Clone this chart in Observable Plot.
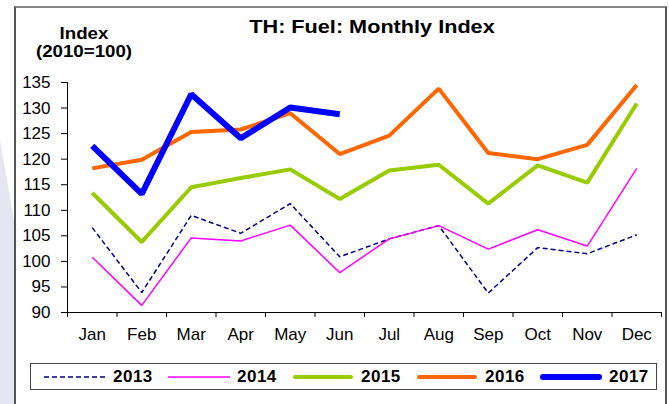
<!DOCTYPE html>
<html>
<head>
<meta charset="utf-8">
<script src="https://cdn.jsdelivr.net/npm/d3@7"></script>
<script src="https://cdn.jsdelivr.net/npm/@observablehq/plot@0.6"></script>
<style>
  html, body { margin: 0; padding: 0; background: #fff; }
  #wrap { position: relative; width: 669px; height: 404px; overflow: hidden; background: #fff;
          font-family: "Liberation Sans", Arial, sans-serif; color: #000; }
  #deco { position: absolute; left: 0; top: 0; width: 14px; height: 404px; background: #e6e6f2;
          clip-path: polygon(0 140px, 14px 220px, 14px 404px, 0 404px); }
  #frame { position: absolute; left: 14px; top: 6px; width: 653px; height: 410px;
           border: 2px solid #555; border-top-color: #888; box-sizing: border-box; }
  #chart { position: absolute; left: 0; top: 0; }
  #title { position: absolute; left: 0; width: 744px; top: 16px; text-align: center;
           font-weight: bold; font-size: 19px; transform: scaleX(1.14); transform-origin: 372px 0; }
  .ylab { position: absolute; left: 24px; width: 120px; text-align: center; height: 16px;
          font-weight: bold; font-size: 17px; line-height: 16px; transform: scaleX(1.1); transform-origin: 60px 0; }
  #legend { position: absolute; left: 30px; top: 363px; width: 627px; height: 27px;
            border: 1.5px solid #444; box-sizing: border-box; display: flex; align-items: center;
            padding-left: 13px; }
  .item { display: flex; align-items: center; width: 124px; flex-shrink: 0; font-weight: bold; font-size: 17px; letter-spacing: 0.5px; }
  .item svg { margin-right: 7px; }
</style>
</head>
<body>
<div id="wrap">
  <div id="deco"></div>
  <div id="chart"></div>
  <div id="frame"></div>
  <div id="title">TH: Fuel: Monthly Index</div>
  <div class="ylab" style="top:26px">Index</div>
  <div class="ylab" style="top:44px">(2010=100)</div>
  <div id="legend"></div>
</div>
<script>
const months = ["Jan","Feb","Mar","Apr","May","Jun","Jul","Aug","Sep","Oct","Nov","Dec"];
const years = ["2013","2014","2015","2016","2017"];
const v2013 = [106.6, 93.9, 109.0, 105.5, 111.3, 100.9, 104.4, 107.0, 93.8, 102.7, 101.5, 105.2];
const v2014 = [100.8, 91.4, 104.6, 104.0, 107.1, 97.8, 104.4, 107.0, 102.4, 106.2, 103.0, 118.2];
const v2015 = [113.4, 103.8, 114.5, 116.3, 118.0, 112.2, 117.8, 118.9, 111.3, 118.8, 115.4, 130.9];
const v2016 = [118.2, 119.9, 125.3, 125.8, 129.0, 121.0, 124.6, 133.8, 121.2, 120.0, 122.8, 134.5];
const v2017 = [122.6, 113.2, 132.7, 124.1, 130.1, 128.8];
const yTicks = [90, 95, 100, 105, 110, 115, 120, 125, 130, 135];

const series = [v2013, v2014, v2015, v2016, v2017];
const colors = ["#000080", "#FF00FF", "#99CC00", "#FF6600", "#0000FF"];
const widths = [1.5, 1.5, 4, 4, 6];
const dashes = ["5,3", null, null, null, null];

const rows = [];
series.forEach((vals, k) => vals.forEach((v, i) => rows.push({year: years[k], month: months[i], v})));

const idx = d => months.indexOf(d.month);
const font = 17;

const lineMarks = years.map((y, k) => Plot.line(rows.filter(r => r.year === y), {
  x: idx, y: d => d.v, stroke: colors[k], strokeWidth: widths[k],
  strokeDasharray: dashes[k] || undefined, strokeLinejoin: "miter", strokeLinecap: "butt"
}));

const boundaries = d3.range(-0.5, months.length, 1);

const chart = Plot.plot({
  width: 669, height: 404,
  marginLeft: 67, marginRight: 8, marginTop: 82, marginBottom: 92,
  x: {domain: [-0.5, months.length - 0.5], axis: null},
  y: {domain: [90, 135], axis: null},
  style: {fontFamily: "'Liberation Sans', Arial, sans-serif", fontSize: font + "px", color: "#000", background: "transparent", overflow: "visible"},
  marks: [
    Plot.axisY({ticks: yTicks, tickSize: 6, tickFormat: () => "", anchor: "left", label: null}),
    Plot.text(yTicks, {x: -0.5, y: d => d, text: d => String(d), textAnchor: "end", dx: -17, fontSize: font}),
    Plot.axisX({ticks: boundaries, tickSize: 5, tickFormat: () => "", anchor: "bottom", label: null}),
    Plot.axisX({ticks: d3.range(months.length), tickSize: 0, tickPadding: 15, tickFormat: i => months[i], fontSize: font, anchor: "bottom", label: null}),
    Plot.ruleX([-0.5], {y1: 90, y2: 135}),
    Plot.ruleY([90], {x1: -0.5, x2: months.length - 0.5}),
    ...lineMarks
  ]
});
document.getElementById("chart").appendChild(chart);

// legend
const legend = d3.select("#legend");
years.forEach((y, k) => {
  const item = legend.append("div").attr("class", "item");
  const s = item.append("svg").attr("width", 62).attr("height", 10);
  s.append("line").attr("x1", widths[k] > 3 ? 3 : 0).attr("x2", widths[k] > 3 ? 59 : 62)
    .attr("y1", 5).attr("y2", 5)
    .attr("stroke", colors[k]).attr("stroke-width", widths[k])
    .attr("stroke-linecap", widths[k] > 3 ? "round" : "butt")
    .attr("stroke-dasharray", dashes[k]);
  item.append("span").text(y);
});
</script>
</body>
</html>
